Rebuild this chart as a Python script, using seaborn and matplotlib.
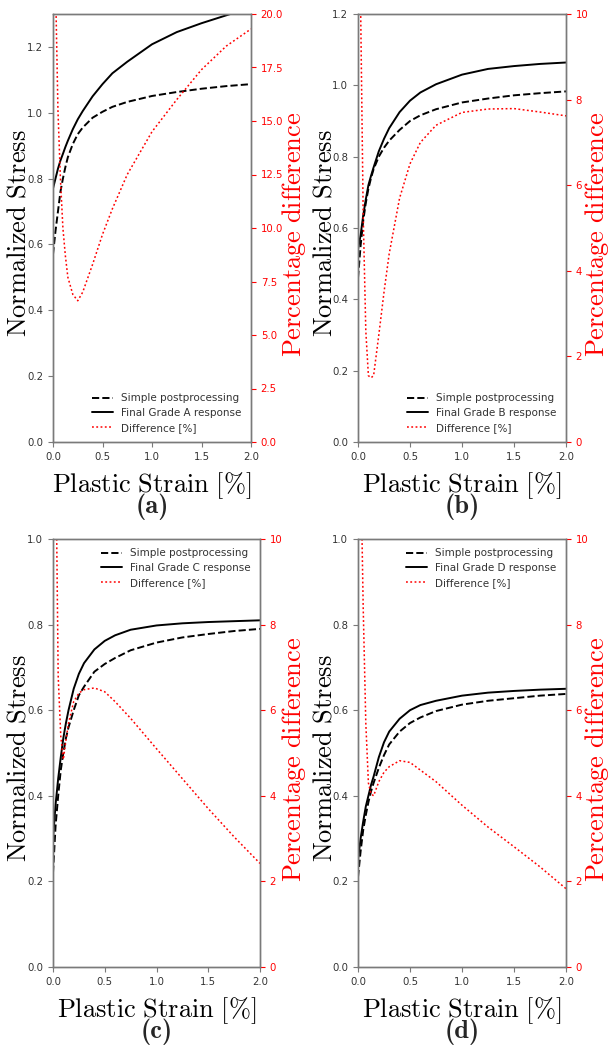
import numpy as np
import pandas as pd
import matplotlib
matplotlib.use("Agg")
import matplotlib.pyplot as plt
import seaborn as sns

# ---------------- data ----------------
strain = [0.0, 0.025, 0.05, 0.075, 0.1, 0.125, 0.15, 0.2, 0.25, 0.3, 0.4,
          0.5, 0.6, 0.75, 1.0, 1.25, 1.5, 1.75, 2.0]

simple_a = [0.57, 0.64, 0.70, 0.76, 0.80, 0.835, 0.865, 0.905, 0.935, 0.955, 0.985,
            1.003, 1.018, 1.033, 1.051, 1.063, 1.073, 1.081, 1.087]
final_a = [0.77, 0.80, 0.83, 0.855, 0.875, 0.896, 0.915, 0.95, 0.98, 1.005, 1.05,
           1.087, 1.12, 1.155, 1.208, 1.245, 1.272, 1.296, 1.32]
diff_a = [28.0, 21.5, 15.5, 12.3, 10.0, 8.7, 7.7, 6.9, 6.6, 7.0, 8.3,
          9.7, 10.9, 12.5, 14.5, 16.0, 17.4, 18.5, 19.3]

simple_b = [0.46, 0.55, 0.62, 0.67, 0.71, 0.74, 0.765, 0.80, 0.825, 0.845, 0.875,
            0.90, 0.916, 0.933, 0.952, 0.963, 0.972, 0.978, 0.983]
final_b = [0.54, 0.58, 0.635, 0.68, 0.72, 0.746, 0.77, 0.815, 0.85, 0.88, 0.925,
           0.957, 0.98, 1.003, 1.03, 1.046, 1.054, 1.06, 1.064]
diff_b = [15.0, 10.2, 5.3, 2.6, 1.55, 1.5, 1.55, 2.5, 3.5, 4.4, 5.7,
          6.5, 7.0, 7.4, 7.7, 7.78, 7.79, 7.71, 7.62]

simple_c = [0.22, 0.33, 0.40, 0.46, 0.50, 0.535, 0.56, 0.60, 0.635, 0.655, 0.69,
            0.708, 0.722, 0.74, 0.758, 0.77, 0.778, 0.785, 0.79]
final_c = [0.30, 0.38, 0.44, 0.49, 0.535, 0.57, 0.60, 0.65, 0.685, 0.71, 0.742,
           0.762, 0.775, 0.788, 0.798, 0.803, 0.806, 0.808, 0.81]
diff_c = [17.0, 12.5, 6.8, 5.4, 4.85, 5.3, 5.7, 6.2, 6.4, 6.48, 6.52,
          6.43, 6.2, 5.81, 5.1, 4.4, 3.7, 3.04, 2.42]

simple_d = [0.21, 0.27, 0.32, 0.355, 0.385, 0.41, 0.43, 0.465, 0.495, 0.52, 0.55,
            0.57, 0.583, 0.598, 0.613, 0.622, 0.628, 0.634, 0.638]
final_d = [0.25, 0.30, 0.34, 0.375, 0.40, 0.425, 0.445, 0.49, 0.525, 0.55, 0.58,
           0.60, 0.612, 0.622, 0.634, 0.641, 0.645, 0.648, 0.65]
diff_d = [16.0, 12.0, 8.4, 5.7, 4.3, 4.05, 4.0, 4.33, 4.55, 4.68, 4.82,
          4.78, 4.6, 4.33, 3.78, 3.27, 2.81, 2.34, 1.83]

grades = ["A", "B", "C", "D"]
panel_tags = ["a", "b", "c", "d"]
x_ticks = [0.0, 0.5, 1.0, 1.5, 2.0]
left_max = [1.3, 1.2, 1.0, 1.0]
left_ticks = [[0.0, 0.2, 0.4, 0.6, 0.8, 1.0, 1.2],
              [0.0, 0.2, 0.4, 0.6, 0.8, 1.0, 1.2],
              [0.0, 0.2, 0.4, 0.6, 0.8, 1.0],
              [0.0, 0.2, 0.4, 0.6, 0.8, 1.0]]
right_max = [20.0, 10.0, 10.0, 10.0]
right_ticks = [[0.0, 2.5, 5.0, 7.5, 10.0, 12.5, 15.0, 17.5, 20.0],
               [0, 2, 4, 6, 8, 10], [0, 2, 4, 6, 8, 10], [0, 2, 4, 6, 8, 10]]
right_fmt = ["{:.1f}", "{:d}", "{:d}", "{:d}"]
legend_loc = ["lower right", "lower right", "upper right", "upper right"]

simples = [simple_a, simple_b, simple_c, simple_d]
finals = [final_a, final_b, final_c, final_d]
diffs = [diff_a, diff_b, diff_c, diff_d]

# ---------------- style ----------------
sns.set_theme(style="ticks")
plt.rcParams["font.family"] = ["DejaVu Sans"]
plt.rcParams["mathtext.fontset"] = "cm"

W, H = 610, 1050
fig = plt.figure(figsize=(W / 100, H / 100), dpi=100)
fig.patch.set_facecolor("white")

# axes boxes in pixels: (left, right, top, bottom)
boxes = [(53, 251, 14, 442), (358, 566, 14, 442),
         (53, 260, 539, 967), (358, 566, 539, 967)]
# pixel x of the inner edge of each y-label
ylab_px = [32, 337, 32, 337]
rlab_px = [280, 583, 280, 583]

spine_col = "#7a7a7a"
tick_col = "#333333"
label_fs = 19

for i in range(4):
    l, r, t, b = boxes[i]
    ax = fig.add_axes([l / W, 1 - b / H, (r - l) / W, (b - t) / H])
    ax2 = ax.twinx()
    df = pd.DataFrame({"strain": strain, "simple": simples[i],
                       "final": finals[i], "diff": diffs[i]})
    sns.lineplot(data=df, x="strain", y="simple", ax=ax, color="black",
                 linestyle="--", linewidth=1.4, label="Simple postprocessing")
    sns.lineplot(data=df, x="strain", y="final", ax=ax, color="black",
                 linestyle="-", linewidth=1.4,
                 label=f"Final Grade {grades[i]} response")
    sns.lineplot(data=df, x="strain", y="diff", ax=ax2, color="red",
                 linestyle=(0, (1.2, 1.6)), linewidth=1.1,
                 label="Difference [%]")
    if ax.get_legend() is not None:
        ax.get_legend().remove()
    if ax2.get_legend() is not None:
        ax2.get_legend().remove()

    ax.set_xlim(0, 2.0)
    ax.set_ylim(0, left_max[i])
    ax2.set_ylim(0, right_max[i])
    ax.set_xticks(x_ticks)
    ax.set_xticklabels([f"{v:.1f}" for v in x_ticks])
    ax.set_yticks(left_ticks[i])
    ax.set_yticklabels([f"{v:.1f}" for v in left_ticks[i]])
    ax2.set_yticks(right_ticks[i])
    ax2.set_yticklabels([right_fmt[i].format(v) for v in right_ticks[i]])

    for a in (ax, ax2):
        for s in a.spines.values():
            s.set_visible(True)
            s.set_color(spine_col)
            s.set_linewidth(1.0)
    ax.tick_params(axis="both", labelsize=7.3, colors=spine_col,
                   labelcolor=tick_col, length=3.5, width=0.8)
    ax2.tick_params(axis="y", labelsize=7.3, colors="red", labelcolor="red",
                    length=3.5, width=0.8)

    ax.set_xlabel(r"$\mathrm{Plastic\ Strain\ [\%]}$", fontsize=label_fs,
                  color="black", labelpad=6)
    ax.set_ylabel(r"$\mathrm{Normalized\ Stress}$", fontsize=label_fs,
                  color="black")
    ax2.set_ylabel(r"$\mathrm{Percentage\ difference}$", fontsize=label_fs,
                   color="red", rotation=90)
    ax.yaxis.set_label_coords((ylab_px[i] - l) / (r - l), 0.488)
    ax2.yaxis.set_label_coords((rlab_px[i] - l) / (r - l), 0.485)

    ax.text(0.5, -0.152, "(" + panel_tags[i] + ")",
            transform=ax.transAxes, ha="center", va="center",
            fontsize=label_fs, fontfamily="cmb10")

    h1, l1 = ax.get_legend_handles_labels()
    h2, l2 = ax2.get_legend_handles_labels()
    leg = ax2.legend(h1 + h2, l1 + l2, loc=legend_loc[i], frameon=False,
                     fontsize=7.5, labelspacing=0.45, handlelength=2.0)
    for txt in leg.get_texts():
        txt.set_color(tick_col)

fig.savefig("out.png", dpi=100, facecolor="white")
